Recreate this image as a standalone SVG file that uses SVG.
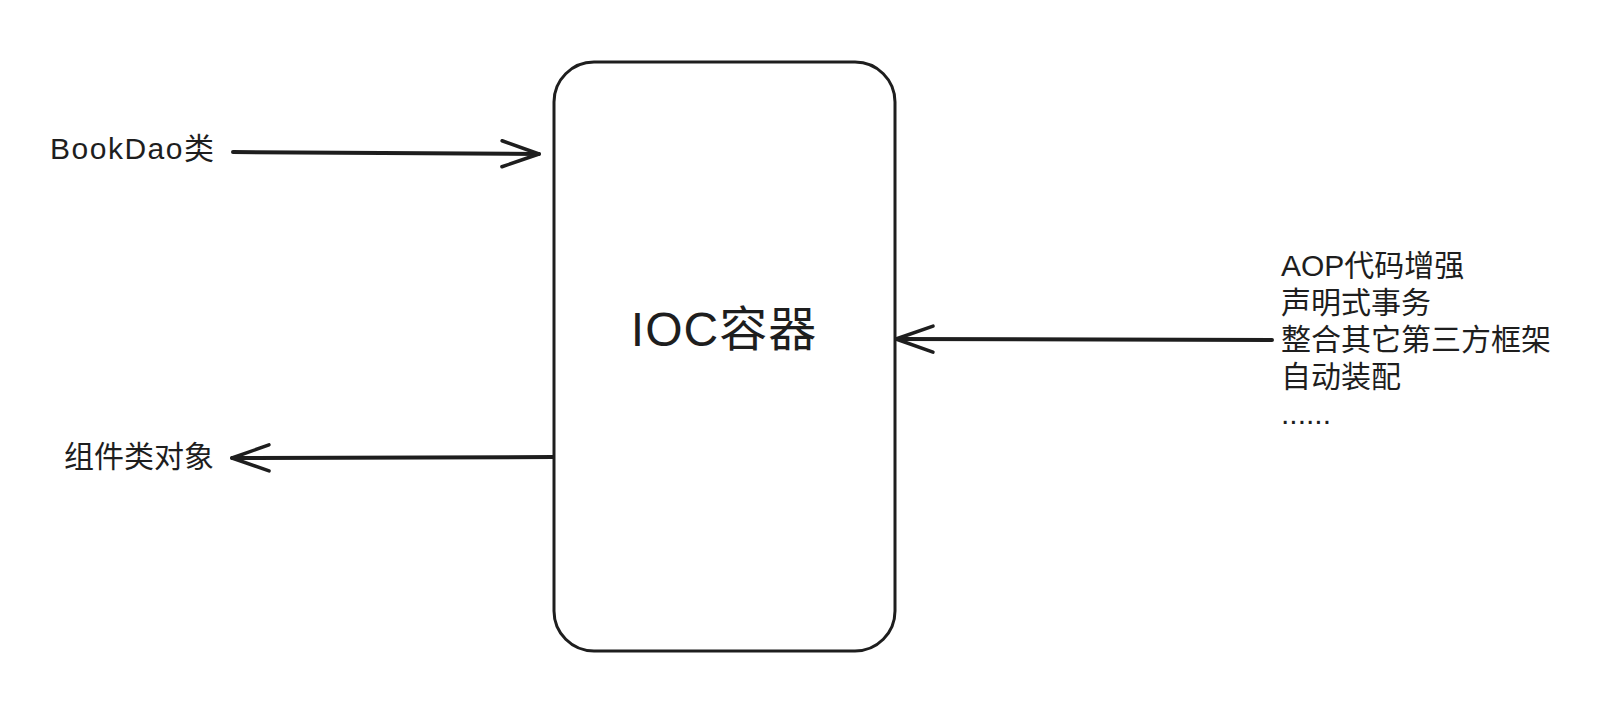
<svg xmlns="http://www.w3.org/2000/svg" width="1609" height="711" viewBox="0 0 1609 711">
<style>
.t{font-family:"Liberation Sans","Noto Sans CJK SC",sans-serif;font-size:30px;fill:#1e1e1e}
.big{font-size:48px;letter-spacing:1px}
.wide{letter-spacing:1.5px}
.ln{stroke:#1e1e1e;stroke-width:4;fill:none;stroke-linecap:round;stroke-linejoin:round}
.box{stroke:#1e1e1e;stroke-width:3;fill:#fff}
</style>
<defs>
<marker id="ah" markerUnits="userSpaceOnUse" markerWidth="60" markerHeight="40" viewBox="-45 -20 50 40" refX="0" refY="0" orient="auto">
<path d="M -37 -13 L 0 0 L -37 13" stroke="#1e1e1e" stroke-width="3.5" fill="none" stroke-linecap="round" stroke-linejoin="round"/>
</marker>
</defs>
<rect width="1609" height="711" fill="#fff"/>
<g id="connectors">
<path class="ln" d="M 233 152 L 539 154" marker-end="url(#ah)"/>
<path class="ln" d="M 553 457 L 232 458" marker-end="url(#ah)"/>
<path class="ln" d="M 1272 340 L 896 339" marker-end="url(#ah)"/>
</g>
<g id="ioc">
<rect class="box" x="554" y="62" width="341" height="589" rx="40" ry="40"/>
<text class="t big" x="724" y="346" text-anchor="middle">IOC容器</text>
</g>
<g id="bookdao">
<text class="t wide" x="50" y="159">BookDao类</text>
</g>
<g id="component">
<text class="t" x="64" y="467">组件类对象</text>
</g>
<g id="features">
<text class="t" x="1281" y="276">AOP代码增强</text>
<text class="t" x="1281" y="313">声明式事务</text>
<text class="t" x="1281" y="350">整合其它第三方框架</text>
<text class="t" x="1281" y="387">自动装配</text>
<text class="t" x="1281" y="424">......</text>
</g>
</svg>
